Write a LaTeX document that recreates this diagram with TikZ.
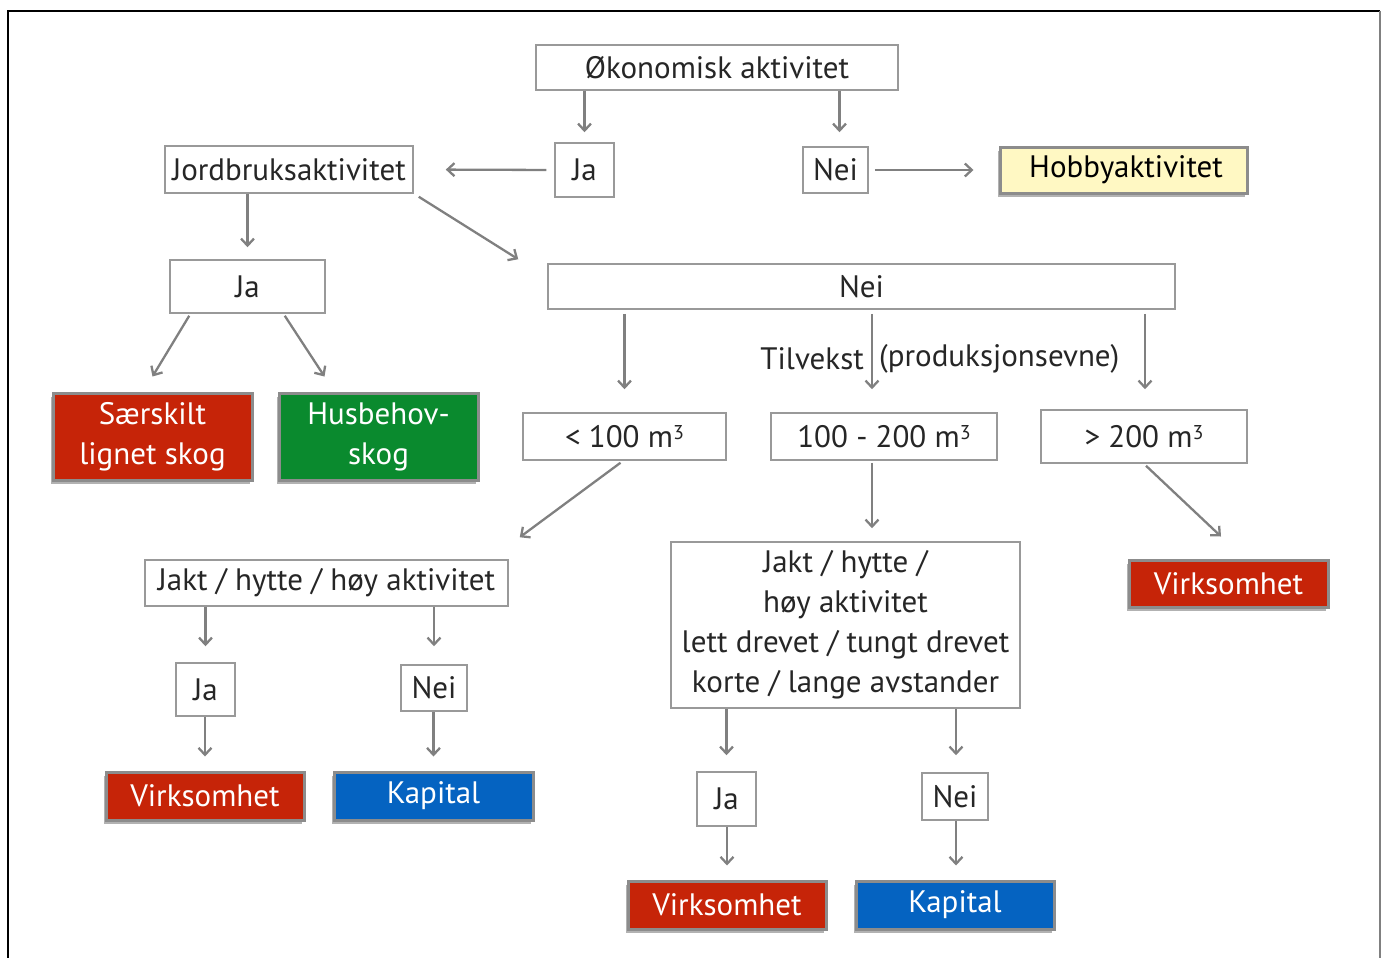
\documentclass[tikz,border=0pt]{standalone}
\usepackage{fontspec}
\setmainfont{PT Sans}
\usetikzlibrary{shadows,arrows.meta,calc}
\definecolor{linegray}{HTML}{808080}
\definecolor{boxgray}{HTML}{999999}
\definecolor{cborder}{HTML}{8C8C8C}
\definecolor{textdark}{HTML}{262626}
\definecolor{cred}{HTML}{C62408}
\definecolor{cgreen}{HTML}{0A8A2E}
\definecolor{cblue}{HTML}{0563C1}
\definecolor{cyellow}{HTML}{FFF8C3}
\newcommand{\cubed}{\raisebox{0.55ex}{\fontsize{20}{20}\selectfont 3}}
\tikzset{
  wbox/.style={draw=boxgray, line width=1.5pt, fill=white, text=textdark, inner sep=0pt,
    align=center, font=\fontsize{31}{40}\selectfont},
  cbox/.style={draw=cborder, line width=3pt, text=white, inner sep=0pt, align=center,
    font=\fontsize{31}{40}\selectfont,
    drop shadow={shadow xshift=-2pt, shadow yshift=-4pt, fill=black, opacity=0.3}},
  lbl/.style={text=textdark, inner sep=0pt, font=\fontsize{31}{40}\selectfont},
  arr/.style={draw=linegray, line width=2.3pt, -{Straight Barb[length=7pt,width=13pt,line width=2.3pt]}}
}
\begin{document}
\begin{tikzpicture}[x=1pt,y=-1pt]
\useasboundingbox (0,0) rectangle (1385,958);
\draw[black, line width=1.5pt] (8,958) -- (8,11) -- (1380,11);
\draw[gray, line width=2pt] (1380,11) -- (1380,958);

% nodes
\node[wbox, minimum width=362, minimum height=45] (ok) at (717,67.5) {Økonomisk aktivitet};
\node[wbox, minimum width=59, minimum height=54] (ja1) at (584.5,170) {Ja};
\node[wbox, minimum width=65, minimum height=46] (nei1) at (835.5,170) {Nei};
\node[cbox, fill=cyellow, text=black, minimum width=247, minimum height=46] (hob) at (1123.5,170) {\,Hobbyaktivitet};
\node[wbox, minimum width=248, minimum height=47] (jord) at (289,169.5) {Jordbruksaktivitet};
\node[wbox, minimum width=155, minimum height=53] (ja2) at (247.5,286.5) {Ja};
\node[cbox, fill=cred, minimum width=199, minimum height=87] (sk) at (152.5,436.5) {Særskilt\\lignet skog};
\node[cbox, fill=cgreen, minimum width=199, minimum height=87] (hb) at (378.5,436.5) {Husbehov-\\skog};
\node[wbox, minimum width=627, minimum height=45] (neiw) at (861.5,286.5) {Nei};
\node[lbl, anchor=east] (tilv) at (864,359) {Tilvekst};
\node[lbl, anchor=west] (prod) at (879,359) {(produksjonsevne)};
\node[wbox, minimum width=203, minimum height=47] (lt) at (624.5,436.5) {< 100 m\cubed};
\node[wbox, minimum width=226, minimum height=47] (mid) at (884,436.5) {100 - 200 m\cubed};
\node[wbox, minimum width=206, minimum height=53] (gt) at (1144,436.5) {> 200 m\cubed};
\node[wbox, minimum width=363, minimum height=46] (jakt) at (326.5,583) {Jakt / hytte / høy aktivitet};
\node[wbox, minimum width=349, minimum height=166] (big) at (845.5,625) {Jakt / hytte /\\høy aktivitet\\lett drevet / tungt drevet\\korte / lange avstander};
\node[cbox, fill=cred, minimum width=199, minimum height=47] (vr) at (1228.5,583.5) {Virksomhet};
\node[wbox, minimum width=59, minimum height=53] (ja3) at (205.5,689.5) {Ja};
\node[wbox, minimum width=66, minimum height=46] (nei3) at (434,688) {Nei};
\node[cbox, fill=cred, minimum width=198, minimum height=48] (v3) at (205,796) {Virksomhet};
\node[cbox, fill=cblue, minimum width=199, minimum height=48] (k3) at (433.5,796) {Kapital};
\node[wbox, minimum width=59, minimum height=54] (ja4) at (726.5,799) {Ja};
\node[wbox, minimum width=66, minimum height=47] (nei4) at (955,796.5) {Nei};
\node[cbox, fill=cred, minimum width=198, minimum height=48] (v4) at (727,905) {Virksomhet};
\node[cbox, fill=cblue, minimum width=198, minimum height=48] (k4) at (955,905) {Kapital};

% connectors
\draw[arr, shorten >=10pt] (ok.south -| ja1) -- (ja1.north);
\draw[arr, shorten >=14pt] ($(ok.south -| nei1)+(4,0)$) -- ($(nei1.north)+(4,0)$);
\draw[arr, shorten <=8pt, shorten >=32pt] (ja1.west) -- (jord.east);
\draw[arr, shorten <=6pt, shorten >=25pt] (nei1.east) -- (hob.west);
\draw[arr, shorten >=12pt] (jord.south -| ja2) -- (ja2.north);
\draw[arr] ($(jord.south east)+(5,3)$) -- ($(neiw.north west)+(-29,-4)$);
\draw[arr] ($(ja2.south west)+(20,2)$) -- ($(sk.north)+(0,-15)$);
\draw[arr] ($(ja2.south east)+(-41,2)$) -- ($(hb.north)+(-54,-15)$);
\draw[arr, shorten >=23pt] ($(neiw.south -| lt)+(0,4)$) -- (lt.north);
\draw[arr, shorten >=23pt] ($(neiw.south -| mid)+(-12,4)$) -- ($(mid.north)+(-12,0)$);
\draw[arr, shorten >=20pt] ($(neiw.south -| gt)+(1,4)$) -- ($(gt.north)+(1,0)$);
\draw[arr] ($(lt.south)+(-4,2)$) -- ($(jakt.north east)+(11,-22)$);
\draw[arr, shorten >=13pt] ($(mid.south)+(-12,2)$) -- ($(big.north)+(26.5,0)$);
\draw[arr] ($(gt.south)+(2,2)$) -- ($(vr.north)+(-7.5,-22)$);
\draw[arr, shorten >=16pt] (jakt.south -| ja3) -- (ja3.north);
\draw[arr, shorten >=18pt] (jakt.south -| nei3) -- (nei3.north);
\draw[arr, shorten >=14pt] (ja3.south -| v3) -- (v3.north);
\draw[arr, shorten >=14pt] (nei3.south -| k3) -- (k3.north);
\draw[arr, shorten >=16pt] (big.south -| ja4) -- (ja4.north);
\draw[arr, shorten >=17pt] ($(big.south -| nei4)+(1,0)$) -- ($(nei4.north)+(1,0)$);
\draw[arr, shorten >=14pt] (ja4.south -| v4) -- (v4.north);
\draw[arr, shorten >=14pt] ($(nei4.south -| k4)+(1,0)$) -- ($(k4.north)+(1,0)$);
\end{tikzpicture}
\end{document}
